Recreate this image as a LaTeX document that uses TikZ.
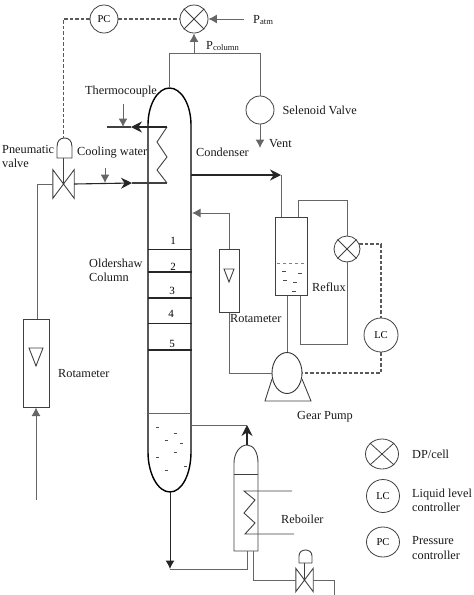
\documentclass[tikz,border=0pt]{standalone}
\usepackage{fontspec}
\setmainfont{Liberation Serif}
\usetikzlibrary{arrows.meta,positioning,shapes.geometric}
\tikzset{
  pipeline/.style={line width=1pt, draw=black!60},
  pipeflow/.style={pipeline, -{Latex[length=8.5pt, width=9pt]}},
  mainflow/.style={line width=1.1pt, draw=black!85, -{Stealth[length=11pt, width=11pt]}},
  signalline/.style={line width=1.1pt, draw=black!65, dashed, dash pattern=on 3.5pt off 2pt},
  vesselwall/.style={line width=1.4pt, draw=black},
  thinwall/.style={line width=0.9pt, draw=black!75},
  instrument/.style={circle, draw=black!75, line width=0.8pt, minimum size=#1, inner sep=0pt,
    font=\fontsize{10.5}{12}\selectfont},
  keyring/.style={ellipse, draw=black!75, line width=0.8pt, minimum width=33pt,
    minimum height=30pt, inner sep=0pt, font=\fontsize{10.5}{12}\selectfont},
  tubebox/.style={draw=black!75, line width=1pt, minimum width=#1, inner sep=0pt},
  valvebody/.style={minimum width=#1, minimum height=#1*1.35, inner sep=0pt},
  plantlabel/.style={font=\fontsize{12.3}{14.5}\selectfont, text=black!90, inner sep=0pt,
    anchor=west, align=left},
  holdup/.style={line width=0.8pt, draw=black!70}
}
\begin{document}
\begin{tikzpicture}[x=1pt, y=-1pt]
  \useasboundingbox (0,0) rectangle (474,595);

  % column and condenser
  \draw[vesselwall] (148,452) -- (148,125) .. controls (148,104) and (158,88) .. (169.5,88)
    .. controls (181,88) and (191,104) .. (191,125) -- (191,452)
    .. controls (191,474) and (182,492) .. (170,492)
    .. controls (158,492) and (148,474) .. (148,452);
  \coordinate (coltop) at (169.5,88);
  \coordinate (colbot) at (170,492);
  \foreach \ty/\tw in {249/0.8,272/1.2,298/1.2,323/0.8,350/1.2}
    \draw[line width=\tw pt, draw=black!85] (148,\ty) -- (192,\ty);
  \foreach \n/\nx/\ny in {1/173/241,2/173/267,3/172/291,4/171/314,5/172/344}
    \node[font=\fontsize{11}{13}\selectfont, inner sep=0pt] (tray\n) at (\nx,\ny) {\n};
  \draw[line width=0.5pt, draw=black!60] (148,413) -- (191,413);
  \foreach \dx/\dy in {157/427,175/433,166/440,181/443,157/457,175/452,166/470,185/466}
    \draw[holdup] (\dx-1.5,\dy) -- (\dx+1.5,\dy);

  \coordinate (coilin) at (167,183);
  \coordinate (coilout) at (167,127);
  \draw[thinwall] (coilout) -- (157,142) -- (167,157) -- (157,170) -- (coilin);

  % overhead and pressure control
  \node[instrument=28pt] (pc) at (104,19) {PC};
  \node[instrument=28pt] (dpcol) at (194,19) {};
  \node[instrument=28pt] (selv) at (260,110) {};
  \node[plantlabel] (patm) at (253,20) {P\textsubscript{atm}};
  \node[plantlabel] (pcolumn) at (206,46) {P\textsubscript{column}};
  \node[plantlabel, right=8pt of selv] (selvlabel) {Selenoid Valve};
  \node[plantlabel] (ventlabel) at (269,144) {Vent};
  \coordinate (overhead) at (169.5,53);
  \coordinate (patmin) at (244,19);
  \coordinate (ventout) at (260,148);
  \draw[pipeline] (coltop) -- (overhead) -| (selv.north);
  \draw[pipeflow] (overhead -| dpcol.south) -- (dpcol.south);
  \draw[pipeflow] (patmin) -- (dpcol.east);
  \draw[pipeflow] (selv.south) -- (ventout);
  \draw[signalline] (pc.east) -- (dpcol.west);

  % cooling water side
  \node[valvebody=21pt] (cwvalve) at (63.5,184) {};
  \draw[thinwall] (cwvalve.north west) -- (cwvalve.south east) -- (cwvalve.north east)
    -- (cwvalve.south west) -- cycle;
  \coordinate (cwact) at (63.5,158);
  \coordinate (cwacttop) at (63.5,138);
  \draw[thinwall] (57,158) -- (57,147) .. controls (57,141) and (60,138) .. (64.5,138)
    .. controls (69,138) and (72,141) .. (72,147) -- (72,158) -- cycle;
  \draw[thinwall] (cwact) -- (cwvalve.center);
  \draw[signalline] (pc.west) -| (cwacttop);
  \coordinate (cwmid) at (132,183);
  \coordinate (tcmid) at (131,127);
  \coordinate (tcend) at (107,127);
  \draw[thinwall, line width=1.1pt] (cwmid) -- (coilin);
  \draw[mainflow] (cwvalve.east) -- (cwmid);
  \draw[thinwall, line width=1.1pt] (tcmid) -- (tcend);
  \draw[mainflow] (coilout) -- (tcmid);
  \coordinate (tcfrom) at (123,104);
  \coordinate (tcto) at (123,127);
  \coordinate (cwfrom) at (105,168);
  \coordinate (cwto) at (105,183);
  \draw[pipeflow] (tcfrom) -- (tcto);
  \draw[pipeflow] (cwfrom) -- (cwto);

  \node[tubebox=26pt, minimum height=88pt] (rotafeed) at (36,363) {};
  \draw[thinwall] (29,348) -- (43,348) -- (36,366) -- cycle;
  \coordinate (feedin) at (36,500);
  \coordinate (feedup) at (37,319);
  \draw[pipeflow] (feedin) -- (rotafeed.south);
  \draw[pipeline] (feedup) |- (cwvalve.west);

  \node[plantlabel] (tclabel) at (85,92) {Thermocouple};
  \node[plantlabel] (pvlabel) at (2,156.5) {Pneumatic\\valve};
  \node[plantlabel] (cwlabel) at (77,153) {Cooling water};
  \node[plantlabel] (cdlabel) at (196,152) {Condenser};
  \node[plantlabel] (olabel) at (89,270.5) {Oldershaw\\Column};
  \node[plantlabel] (rotafeedlabel) at (58,374) {Rotameter};

  % reflux loop
  \node[tubebox=32pt, minimum height=78pt] (drum) at (291,256) {};
  \node[tubebox=20pt, minimum height=63pt] (rotareflux) at (229,280.5) {};
  \node[instrument=26pt] (dpref) at (347,249) {};
  \node[instrument=34pt] (lc) at (381,335) {LC};
  \node[ellipse, draw=black!80, line width=0.9pt, minimum width=30pt, minimum height=41pt,
    inner sep=0pt, fill=white] (pump) at (287,373) {};
  \draw[thinwall] (224,269) -- (234,269) -- (229,282) -- cycle;
  \draw[line width=0.5pt, draw=black!50, dashed] (277,263) -- (306,263);
  \foreach \dx/\dy in {284/271,300/273,285/280,295/282,294/291}
    \draw[holdup] (\dx-2,\dy) -- (\dx+2,\dy);

  \coordinate (colout) at (191,175);
  \coordinate (drumin) at (281,175);
  \coordinate (ventup) at (298,200);
  \coordinate (drumret) at (300,344);
  \coordinate (colback) at (192,213);
  \coordinate (dpsignal) at (359,244);
  \draw[mainflow] (colout) -- (drumin);
  \draw[pipeline] (drumin) -- (drumin |- drum.north);
  \draw[pipeline] (ventup |- drum.north) -- (ventup) -| (dpref.north);
  \draw[pipeline] (dpref.south) |- (drumret) -- (drumret |- drum.south);
  \draw[pipeline] (drum.south -| pump.north) -- (pump.north);
  \draw[pipeflow] (rotareflux.north) |- (colback);
  \draw[pipeline] (rotareflux.south) |- (pump.west);
  \draw[signalline] (dpsignal) -| (lc.north);
  \draw[signalline] (lc.south) |- (pump.east);
  \draw[thinwall] (272,379) -- (265,401) -- (311,401) -- (302,379);

  \node[plantlabel] (refluxlabel) at (312,287) {Reflux};
  \node[plantlabel] (rotarefluxlabel) at (230,319) {Rotameter};
  \node[plantlabel] (pumplabel) at (297,417) {Gear Pump};

  % reboiler
  \coordinate (rebtop) at (247,445);
  \draw[thinwall] (234,551) -- (234,463) .. controls (234,453) and (240,445) .. (rebtop)
    .. controls (254,445) and (258,453) .. (258,463) -- (258,551) -- cycle;
  \draw[thinwall] (234,474) -- (258,474);
  \coordinate (rebin) at (292,491);
  \coordinate (rebout) at (294,534);
  \draw[thinwall] (rebin) -- (244,491) -- (255,500) -- (244,513) -- (255,523) -- (245,534) -- (rebout);
  \node[plantlabel] (reblabel) at (281,519) {Reboiler};

  \coordinate (colside) at (191,425);
  \coordinate (rebvap) at (247,425);
  \draw[pipeline] (colside) -- (rebvap);
  \draw[mainflow] (rebtop) -- (rebvap);

  \coordinate (botarrow) at (170,569);
  \coordinate (rebdraw) at (247,551);
  \draw[pipeflow, draw=black!85] (colbot) -- (botarrow);
  \draw[pipeline] (botarrow) -- (rebdraw |- botarrow) -- (rebdraw);

  \node[valvebody=17pt] (botvalve) at (304.5,580) {};
  \draw[thinwall] (botvalve.north west) -- (botvalve.south east) -- (botvalve.north east)
    -- (botvalve.south west) -- cycle;
  \draw[thinwall] (299,563) -- (299,556) .. controls (299,552) and (302,550) .. (305.5,550)
    .. controls (309,550) and (312,552) .. (312,556) -- (312,563) -- cycle;
  \coordinate (botact) at (304.5,563);
  \draw[thinwall] (botact) -- (botvalve.center);
  \coordinate (botleft) at (253,551);
  \coordinate (botend) at (334,595);
  \draw[pipeline] (botleft) |- (botvalve.west);
  \draw[pipeline] (botvalve.east) -| (botend);

  % key
  \node[keyring] (dpkey) at (382,454) {};
  \node[keyring, minimum height=33pt] (lckey) at (383,496) {LC};
  \node[keyring] (pckey) at (383,542) {PC};
  \node[plantlabel] (dpkeylabel) at (412,454) {DP/cell};
  \node[plantlabel] (lckeylabel) at (412,500.5) {Liquid level\\controller};
  \node[plantlabel] (pckeylabel) at (412,548) {Pressure\\controller};

  \foreach \cell in {dpcol,dpref,dpkey}
    \draw[thinwall, line width=0.8pt] (\cell.north west) -- (\cell.south east)
      (\cell.north east) -- (\cell.south west);
\end{tikzpicture}
\end{document}
